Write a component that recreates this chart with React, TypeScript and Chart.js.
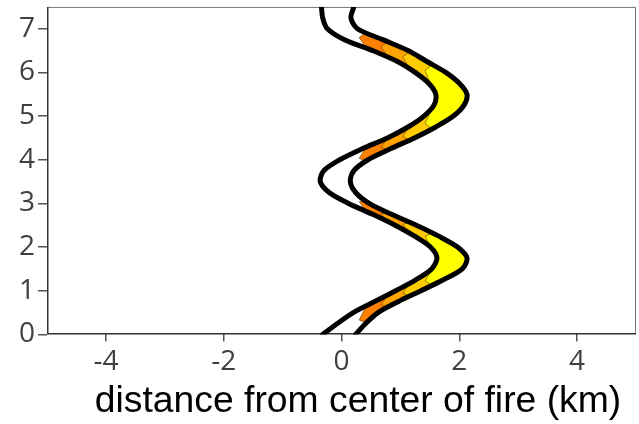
import { useEffect, useRef } from "react";
import { Chart, registerables } from "chart.js";

Chart.register(...registerables);

// Height above ground (km) at which both fire-front edges are sampled
const heights = [
  0, 0.25, 0.5, 0.75, 1, 1.25, 1.5, 1.75, 2, 2.25, 2.5, 2.75, 3, 3.25, 3.5,
  3.75, 4, 4.25, 4.5, 4.75, 5, 5.25, 5.5, 5.75, 6, 6.25, 6.5, 6.75, 7, 7.25, 7.5,
];

// Horizontal position (km) of the inner (left) edge of the front
const innerEdge = [
  -0.32, -0.07, 0.2, 0.56, 0.92, 1.26, 1.53, 1.62, 1.51, 1.24, 0.91, 0.53, 0.12,
  -0.21, -0.36, -0.3, -0.03, 0.35, 0.78, 1.13, 1.4, 1.57, 1.6, 1.48, 1.25, 0.95,
  0.53, 0.05, -0.24, -0.32, -0.34,
];

// Horizontal position (km) of the outer (right) edge of the front
const outerEdge = [
  0.24, 0.41, 0.62, 0.96, 1.35, 1.73, 2.05, 2.13, 1.97, 1.65, 1.27, 0.85, 0.47,
  0.24, 0.15, 0.21, 0.45, 0.83, 1.24, 1.6, 1.9, 2.08, 2.13, 2.0, 1.77, 1.45,
  1.13, 0.7, 0.27, 0.16, 0.21,
];

// Height windows (km) of the two bulges of the front
const bulgeWindows = [
  [0, 3.5],
  [3.5, 7.5],
];

// Burning zones: distance (km) where each zone begins, outermost level first
const burnThresholds = [0.3, 0.67, 1.04, 1.42];
const burnColors = ["#ff8000", "#ffa400", "#ffcc00", "#ffff00"];
// Length (km) of the pointed end of each zone
const tipLength = 0.12;

const xTickValues = [-4, -2, 0, 2, 4];
const xTickLabels = ["-4", "-2", "0", "2", "4"];
const yTickValues = [0, 1, 2, 3, 4, 5, 6, 7];
const yTickLabels = ["0", "1", "2", "3", "4", "5", "6", "7"];

const xTitle = "distance from center of fire (km)";

type Pt = { x: number; y: number };

// Heights where an edge crosses distance d inside a window: [rising, falling]
function crossings(edge: number[], d: number, lo: number, hi: number): [number, number] {
  const found: number[] = [];
  for (let i = 0; i < heights.length - 1; i++) {
    const h0 = heights[i];
    const h1 = heights[i + 1];
    if (h0 < lo || h1 > hi) continue;
    const a = edge[i];
    const b = edge[i + 1];
    if ((a - d) * (b - d) <= 0 && a !== b) {
      found.push(h0 + ((d - a) / (b - a)) * (h1 - h0));
    }
  }
  return [found[0], found[found.length - 1]];
}

// Closed outline of one burning zone inside one bulge
function zoneOutline(d: number, lo: number, hi: number): Pt[] {
  const [ia, ib] = crossings(innerEdge, d + tipLength, lo, hi);
  const [oa, ob] = crossings(outerEdge, d + tipLength, lo, hi);
  const [ta1, ta2] = crossings(innerEdge, d, lo, hi);
  const [tb1, tb2] = crossings(outerEdge, d, lo, hi);
  const lowTip = { x: d, y: (ta1 + tb1) / 2 };
  const highTip = { x: d, y: (ta2 + tb2) / 2 };

  const pts: Pt[] = [lowTip, { x: d + tipLength, y: ia }];
  heights.forEach((h, i) => {
    if (h > ia && h < ib) pts.push({ x: innerEdge[i], y: h });
  });
  pts.push({ x: d + tipLength, y: ib });
  pts.push(highTip);
  pts.push({ x: d + tipLength, y: ob });
  for (let i = heights.length - 1; i >= 0; i--) {
    const h = heights[i];
    if (h > oa && h < ob) pts.push({ x: outerEdge[i], y: h });
  }
  pts.push({ x: d + tipLength, y: oa });
  pts.push({ ...lowTip });
  return pts;
}

const framePlugin = {
  id: "plotFrame",
  beforeDatasetsDraw(chart: Chart) {
    const { ctx, chartArea } = chart;
    const { left, top, right, bottom } = chartArea;
    ctx.save();
    ctx.strokeStyle = "#777";
    ctx.lineWidth = 1;
    ctx.beginPath();
    ctx.moveTo(left, top + 0.5);
    ctx.lineTo(right - 0.5, top + 0.5);
    ctx.lineTo(right - 0.5, bottom);
    ctx.stroke();
    ctx.strokeStyle = "#333";
    ctx.lineWidth = 1.5;
    ctx.beginPath();
    ctx.moveTo(left + 0.75, top);
    ctx.lineTo(left + 0.75, bottom - 0.75);
    ctx.lineTo(right, bottom - 0.75);
    ctx.stroke();
    ctx.restore();
  },
  afterDraw(chart: Chart) {
    const { ctx } = chart;
    ctx.save();
    ctx.fillStyle = "#000";
    ctx.font = "37.3px 'Liberation Sans', Arial, sans-serif";
    ctx.textAlign = "center";
    ctx.textBaseline = "alphabetic";
    ctx.fillText(xTitle, 358, 412);
    ctx.restore();
  },
};

export default function App() {
  const canvasRef = useRef<HTMLCanvasElement | null>(null);

  useEffect(() => {
    const canvas = canvasRef.current;
    if (!canvas) return;

    const zoneSets: any[] = [];
    bulgeWindows.forEach(([lo, hi]) => {
      burnThresholds.forEach((d, level) => {
        zoneSets.push({
          data: zoneOutline(d, lo, hi),
          showLine: true,
          fill: "shape",
          backgroundColor: burnColors[level],
          borderColor: "rgba(100,60,0,0.6)",
          borderWidth: 1,
          pointRadius: 0,
          tension: 0,
          order: 10 - level,
        });
      });
    });

    const edgeSet = (edge: number[]) => ({
      data: heights.map((h, i) => ({ x: edge[i], y: h })),
      showLine: true,
      fill: false,
      borderColor: "#000",
      borderWidth: 5,
      borderCapStyle: "round",
      borderJoinStyle: "round",
      pointRadius: 0,
      tension: 0.3,
      order: 0,
    });

    const chart = new Chart(canvas, {
      type: "scatter",
      data: {
        datasets: [...zoneSets, edgeSet(innerEdge), edgeSet(outerEdge)],
      },
      options: {
        animation: false,
        responsive: false,
        events: [],
        layout: { padding: { left: 16, right: 3, top: 0, bottom: 41 } },
        plugins: {
          legend: { display: false },
          tooltip: { enabled: false },
        },
        scales: {
          x: {
            type: "linear",
            min: -5,
            max: 5,
            afterBuildTicks: (axis: any) => {
              axis.ticks = xTickValues.map((v) => ({ value: v }));
            },
            grid: {
              drawOnChartArea: false,
              drawTicks: true,
              tickLength: 7,
              color: "#555",
              lineWidth: 1.5,
            },
            border: { display: false },
            ticks: {
              padding: 4,
              color: "#404040",
              font: { family: "'Open Sans', sans-serif", size: 28, lineHeight: 1.2 },
              callback: (v: any) => xTickLabels[xTickValues.indexOf(Number(v))] ?? "",
              maxRotation: 0,
            },
          },
          y: {
            type: "linear",
            min: 0,
            max: 7.5,
            afterBuildTicks: (axis: any) => {
              axis.ticks = yTickValues.map((v) => ({ value: v }));
            },
            grid: {
              drawOnChartArea: false,
              drawTicks: true,
              tickLength: 9,
              color: "#555",
              lineWidth: 1.5,
            },
            border: { display: false },
            ticks: {
              padding: 3,
              color: "#404040",
              font: { family: "'Open Sans', sans-serif", size: 28, lineHeight: 0.28 },
              callback: (v: any) => yTickLabels[yTickValues.indexOf(Number(v))] ?? "",
            },
          },
        },
      },
      plugins: [framePlugin],
    } as any);

    return () => chart.destroy();
  }, []);

  return (
    <div style={{ position: "fixed", left: 0, top: 0, width: 639, height: 424, background: "#fff" }}>
      <canvas ref={canvasRef} width={639} height={424} style={{ display: "block" }} />
    </div>
  );
}
